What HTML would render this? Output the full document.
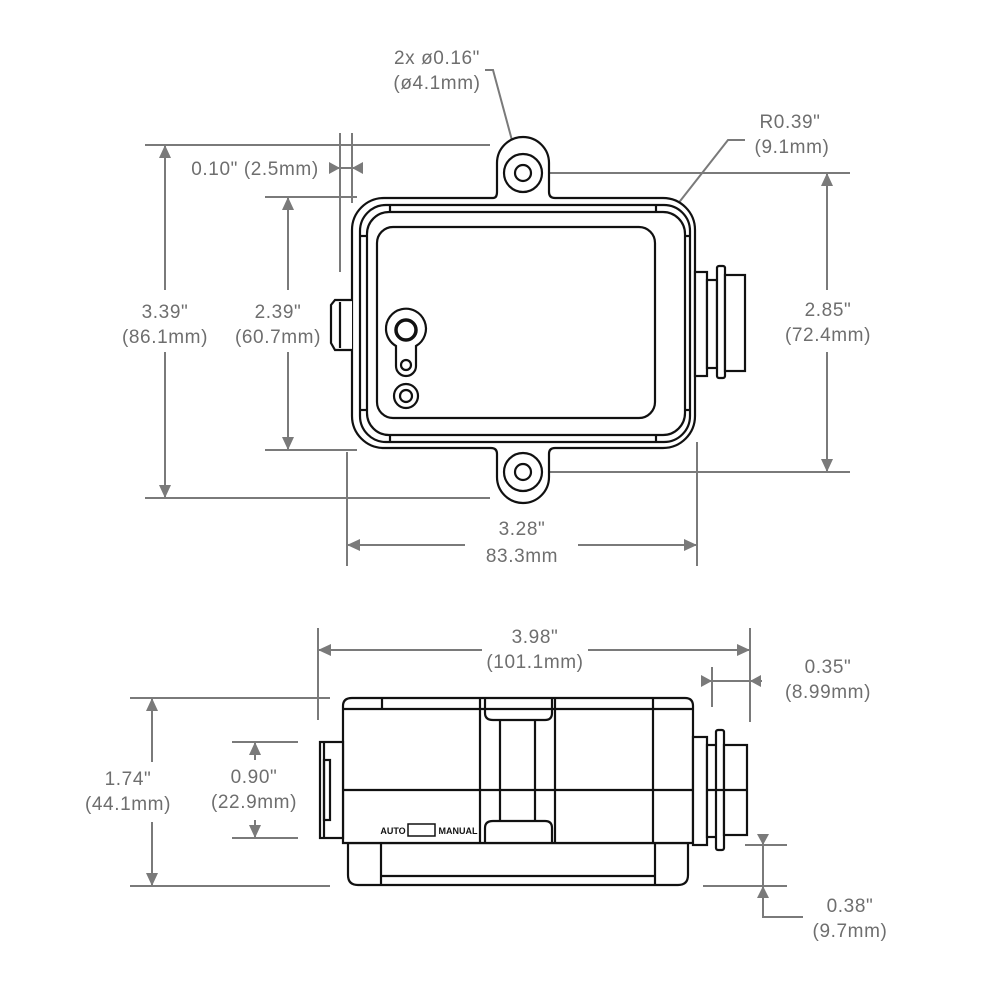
<!DOCTYPE html>
<html><head><meta charset="utf-8"><style>
html,body{margin:0;padding:0;background:#fff}
svg{display:block}
text{font-family:"Liberation Sans",sans-serif;font-size:19px;fill:#6e6e6e;text-anchor:middle;letter-spacing:0.6px}
.d{stroke:#7a7a7a;stroke-width:2;fill:none}
.a{fill:#7a7a7a}
.b{stroke:#111;stroke-width:2.2;fill:none}
.bw{stroke:#111;stroke-width:2.2;fill:#fff}
</style></head><body>
<svg width="1000" height="1000" viewBox="0 0 1000 1000" xmlns="http://www.w3.org/2000/svg">
<!-- ===== TOP VIEW dimension lines ===== -->
<line class="d" x1="145" y1="145" x2="490" y2="145"/>
<line class="d" x1="145" y1="498" x2="490" y2="498"/>
<line class="d" x1="165" y1="145" x2="165" y2="290"/>
<line class="d" x1="165" y1="352" x2="165" y2="498"/>
<polygon class="a" points="165,145 159,158 171,158"/>
<polygon class="a" points="165,498 159,485 171,485"/>
<text x="165" y="318">3.39"</text><text x="165" y="343">(86.1mm)</text>

<line class="d" x1="265" y1="197" x2="357" y2="197"/>
<line class="d" x1="265" y1="450" x2="357" y2="450"/>
<line class="d" x1="288" y1="197" x2="288" y2="290"/>
<line class="d" x1="288" y1="352" x2="288" y2="450"/>
<polygon class="a" points="288,197 282,210 294,210"/>
<polygon class="a" points="288,450 282,437 294,437"/>
<text x="278" y="318">2.39"</text><text x="278" y="343">(60.7mm)</text>

<line class="d" x1="340" y1="133" x2="340" y2="272"/>
<line class="d" x1="352" y1="133" x2="352" y2="203"/>
<line class="d" x1="330" y1="168" x2="362" y2="168"/>
<polygon class="a" points="340,168 329,162 329,174"/>
<polygon class="a" points="352,168 363,162 363,174"/>
<text x="255" y="175">0.10"  (2.5mm)</text>

<line class="d" x1="545" y1="173" x2="850" y2="173"/>
<line class="d" x1="545" y1="472" x2="850" y2="472"/>
<line class="d" x1="827" y1="173" x2="827" y2="290"/>
<line class="d" x1="827" y1="352" x2="827" y2="472"/>
<polygon class="a" points="827,173 821,186 833,186"/>
<polygon class="a" points="827,472 821,459 833,459"/>
<text x="828" y="316">2.85"</text><text x="828" y="341">(72.4mm)</text>

<line class="d" x1="347" y1="452" x2="347" y2="566"/>
<line class="d" x1="697" y1="442" x2="697" y2="566"/>
<line class="d" x1="347" y1="545" x2="465" y2="545"/>
<line class="d" x1="578" y1="545" x2="697" y2="545"/>
<polygon class="a" points="347,545 360,539 360,551"/>
<polygon class="a" points="697,545 684,539 684,551"/>
<text x="522" y="535">3.28"</text><text x="522" y="562">83.3mm</text>

<text x="437" y="64">2x  ø0.16"</text><text x="437" y="89">(ø4.1mm)</text>
<polyline class="d" points="485,70 493,70 520,170"/>
<text x="790" y="128">R0.39"</text><text x="792" y="153">(9.1mm)</text>
<polyline class="d" points="745,140 728,140 677,205"/>

<!-- ===== TOP VIEW body ===== -->
<path class="bw" d="M384,198 H493 Q497,198 497,192 V163 A26,26 0 0 1 549,163 V192 Q549,198 555,198 H663 A32,32 0 0 1 695,230 V416 A32,32 0 0 1 663,448 H555 Q549,448 549,454 V477 A26,26 0 0 1 497,477 V454 Q497,448 491,448 H384 A32,32 0 0 1 352,416 V230 A32,32 0 0 1 384,198 Z"/>
<circle class="b" cx="523" cy="173" r="19"/><circle class="b" cx="523" cy="173" r="8"/>
<circle class="b" cx="523" cy="472" r="19"/><circle class="b" cx="523" cy="472" r="8"/>
<rect class="b" x="360" y="205" width="330" height="237" rx="26"/>
<rect class="b" x="367" y="212" width="318" height="223" rx="22"/>
<line class="b" x1="390" y1="205" x2="390" y2="212"/><line class="b" x1="656" y1="205" x2="656" y2="212"/>
<line class="b" x1="390" y1="435" x2="390" y2="442"/><line class="b" x1="656" y1="435" x2="656" y2="442"/>
<line class="b" x1="360" y1="236" x2="367" y2="236"/><line class="b" x1="360" y1="410" x2="367" y2="410"/>
<line class="b" x1="685" y1="236" x2="690" y2="236"/><line class="b" x1="685" y1="410" x2="690" y2="410"/>
<rect class="b" x="377" y="227" width="278" height="191" rx="16"/>
<path class="b" d="M386,330 A20,20 0 1 1 416,346 V366 A10,10 0 0 1 396,366 V346 A20,20 0 0 1 386,330 Z"/>
<circle cx="406" cy="330" r="10" fill="none" stroke="#111" stroke-width="3.5"/>
<circle class="b" cx="406" cy="365" r="5"/>
<circle class="b" cx="406" cy="396" r="12"/><circle class="b" cx="406" cy="396" r="6"/>
<path class="bw" d="M352,300 H335 L331,305 V343 L335,350 H352"/>
<line class="b" x1="340" y1="302" x2="340" y2="348"/>
<rect class="bw" x="695" y="272" width="12" height="104"/>
<rect class="bw" x="707" y="280" width="10" height="88"/>
<rect class="bw" x="717" y="266" width="8" height="112" rx="2"/>
<rect class="bw" x="725" y="275" width="20" height="96"/>

<!-- ===== SIDE VIEW dimension lines ===== -->
<line class="d" x1="318" y1="628" x2="318" y2="720"/>
<line class="d" x1="750" y1="628" x2="750" y2="722"/>
<line class="d" x1="318" y1="650" x2="482" y2="650"/>
<line class="d" x1="588" y1="650" x2="750" y2="650"/>
<polygon class="a" points="318,650 331,644 331,656"/>
<polygon class="a" points="750,650 737,644 737,656"/>
<text x="535" y="643">3.98"</text><text x="535" y="668">(101.1mm)</text>

<line class="d" x1="712" y1="667" x2="712" y2="707"/>
<line class="d" x1="702" y1="681" x2="762" y2="681"/>
<polygon class="a" points="712,681 701,675 701,687"/>
<polygon class="a" points="750,681 761,675 761,687"/>
<text x="828" y="673">0.35"</text><text x="828" y="698">(8.99mm)</text>

<line class="d" x1="130" y1="698" x2="330" y2="698"/>
<line class="d" x1="130" y1="886" x2="330" y2="886"/>
<line class="d" x1="152" y1="698" x2="152" y2="762"/>
<line class="d" x1="152" y1="822" x2="152" y2="886"/>
<polygon class="a" points="152,698 146,711 158,711"/>
<polygon class="a" points="152,886 146,873 158,873"/>
<text x="128" y="785">1.74"</text><text x="128" y="810">(44.1mm)</text>

<line class="d" x1="232" y1="742" x2="298" y2="742"/>
<line class="d" x1="232" y1="838" x2="298" y2="838"/>
<line class="d" x1="255" y1="742" x2="255" y2="760"/>
<line class="d" x1="255" y1="820" x2="255" y2="838"/>
<polygon class="a" points="255,742 249,755 261,755"/>
<polygon class="a" points="255,838 249,825 261,825"/>
<text x="254" y="783">0.90"</text><text x="254" y="808">(22.9mm)</text>

<line class="d" x1="745" y1="845" x2="787" y2="845"/>
<line class="d" x1="703" y1="886" x2="787" y2="886"/>
<polyline class="d" points="763,835 763,917 803,917"/>
<polygon class="a" points="763,845 757,834 769,834"/>
<polygon class="a" points="763,886 757,898 769,898"/>
<text x="850" y="912">0.38"</text><text x="850" y="937">(9.7mm)</text>

<!-- ===== SIDE VIEW body ===== -->
<path class="bw" d="M348,843 H688 V875 Q688,885 678,885 H358 Q348,885 348,875 Z"/>
<line class="b" x1="381" y1="843" x2="381" y2="885"/>
<line class="b" x1="655" y1="843" x2="655" y2="885"/>
<line class="b" x1="381" y1="876" x2="655" y2="876"/>
<path class="bw" d="M352,698 H685 Q693,698 693,706 V843 H343 V706 Q343,698 352,698 Z"/>
<line class="b" x1="343" y1="709" x2="693" y2="709"/>
<line class="b" x1="343" y1="790" x2="693" y2="790"/>
<line class="b" x1="382" y1="698" x2="382" y2="709"/>
<line class="b" x1="480" y1="698" x2="480" y2="843"/>
<line class="b" x1="555" y1="698" x2="555" y2="843"/>
<line class="b" x1="653" y1="698" x2="653" y2="843"/>
<path class="b" d="M485,698 V713 Q485,720 493,720 H545 Q552,720 552,713 V698"/>
<path class="b" d="M485,843 V828 Q485,821 493,821 H545 Q552,821 552,828 V843"/>
<line class="b" x1="500" y1="720" x2="500" y2="821"/>
<line class="b" x1="535" y1="720" x2="535" y2="821"/>
<text x="393" y="834" style="font-size:9px;fill:#111;font-weight:bold;letter-spacing:0">AUTO</text>
<rect class="b" x="408" y="824" width="27" height="12" style="stroke-width:1.5"/>
<text x="458" y="834" style="font-size:9px;fill:#111;font-weight:bold;letter-spacing:0">MANUAL</text>
<rect class="bw" x="320" y="742" width="23" height="96"/>
<line class="b" x1="324" y1="742" x2="324" y2="838"/>
<rect class="b" x="324" y="760" width="6" height="60"/>
<rect class="bw" x="693" y="737" width="14" height="108"/>
<rect class="bw" x="707" y="745" width="10" height="92"/>
<rect class="bw" x="716" y="730" width="8" height="120" rx="2"/>
<rect class="bw" x="724" y="745" width="23" height="90"/>
<line class="b" x1="707" y1="790" x2="747" y2="790"/>
</svg>
</body></html>
